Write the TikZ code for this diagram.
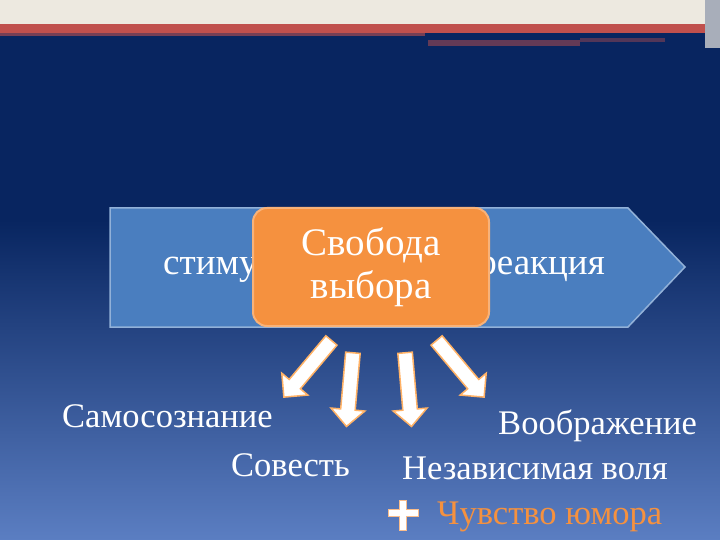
\documentclass[tikz,border=0pt]{standalone}
\usepackage{fontspec}
\setmainfont{Liberation Serif}
\usetikzlibrary{shapes.arrows}
\definecolor{navy}{HTML}{082560}
\definecolor{lowblue}{HTML}{5B7EC2}
\definecolor{boxblue}{HTML}{4A7EBF}
\definecolor{orng}{HTML}{F5913F}
\definecolor{cream}{HTML}{EDE9E0}
\definecolor{redline}{HTML}{C0504D}
\tikzset{x=1pt,y=-1pt,
 lbl/.style={font=\fontsize{34.5}{36}\selectfont,text=white,inner sep=0pt},
 wa/.style={single arrow,draw=orange!60!white,line width=1.5pt,fill=white,minimum height=74pt,minimum width=34pt,single arrow head extend=5pt,single arrow head indent=0pt,inner sep=3pt}}
\begin{document}
\begin{tikzpicture}
\useasboundingbox (0,0) rectangle (720,540);
\fill[navy] (0,0) rectangle (720,220);
\shade[top color=navy,bottom color=lowblue] (0,220) rectangle (720,540);
\fill[cream] (0,0) rectangle (720,24);
\fill[redline] (0,24) rectangle (720,33);
\fill[redline!60!navy] (0,33) rectangle (425,36);
\fill[redline!50!navy] (428,40) rectangle (580,46);
\fill[redline!40!navy] (580,38) rectangle (665,42);
\fill[cream!70!navy] (705,0) rectangle (720,48);
\draw[boxblue!60!white,line width=1.5pt,fill=boxblue] (110,208) -- (628,208) -- (685,267) -- (628,327) -- (110,327) -- cycle;
\node[lbl,font=\fontsize{37}{40}\selectfont,anchor=west] (st) at (163,270) {стимул};
\node[lbl,font=\fontsize{37}{40}\selectfont,anchor=east] (re) at (605,270) {реакция};
\node[draw=orng!70!white,line width=2pt,fill=orng,rounded corners=14pt,minimum width=236pt,minimum height=118pt,align=center,text=white,font=\fontsize{39}{46}\selectfont] (fr) at (371,267) {\raisebox{-3pt}{Свобода}\\выбора};
\node[wa,rotate=-130] (a1) at (310,366) {};
\node[wa,rotate=-95] (a2) at (350,386) {};
\node[wa,rotate=-85] (a3) at (408,386) {};
\node[wa,rotate=-50] (a4) at (458,366) {};
\node[lbl,anchor=west] (s1) at (62,416) {Самосознание};
\node[lbl,anchor=east] (s2) at (350,465) {Совесть};
\node[lbl,anchor=east] (s3) at (697,426) {Воображение};
\node[lbl,anchor=west] (s4) at (402,468) {Независимая воля};
\node[lbl,anchor=west,text=orng] (s5) at (437,517) {Чувство юмора};
\node[draw=orng!60!white,line width=1pt,fill=white,inner sep=0pt,minimum width=7pt,minimum height=30pt] (p1) at (403,515) {};
\node[draw=orng!60!white,line width=1pt,fill=white,inner sep=0pt,minimum width=30pt,minimum height=7pt] (p2) at (403,513) {};
\fill[white] (400,501) rectangle (406,529);
\end{tikzpicture}
\end{document}
